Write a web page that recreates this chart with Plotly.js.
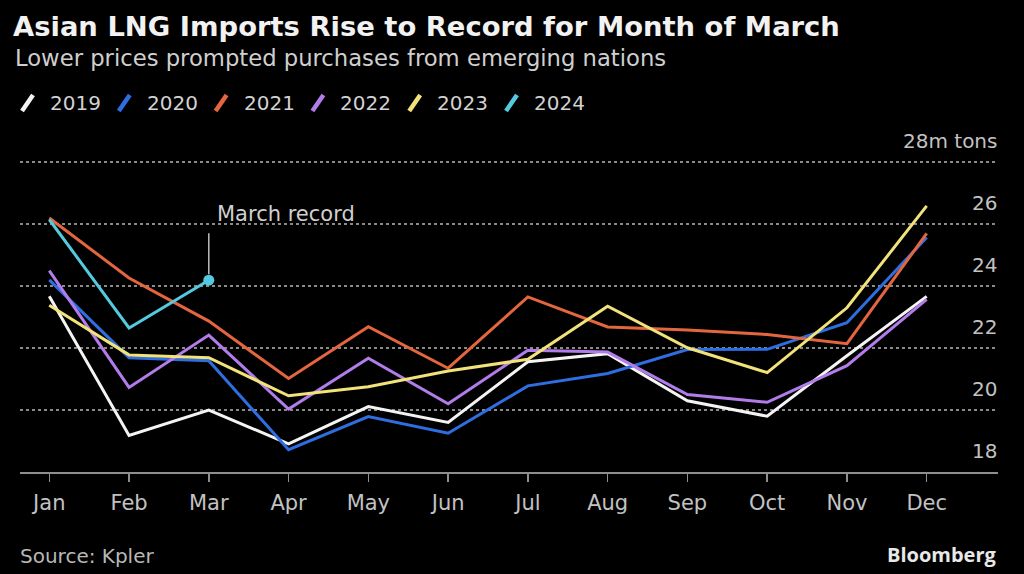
<!DOCTYPE html>
<html>
<head>
<meta charset="utf-8">
<script src="https://cdn.plot.ly/plotly-3.0.1.min.js"></script>
<style>
  html, body { margin: 0; padding: 0; background: #000; }
  #chart { width: 1024px; height: 574px; }
</style>
</head>
<body>
<div id="chart"></div>
<script>
// Monthly Asian LNG imports, million tons
const months = ['Jan', 'Feb', 'Mar', 'Apr', 'May', 'Jun', 'Jul', 'Aug', 'Sep', 'Oct', 'Nov', 'Dec'];
const years = ['2019', '2020', '2021', '2022', '2023', '2024'];

const imports2019 = [23.67, 19.18, 20.0, 18.91, 20.11, 19.6, 21.56, 21.82, 20.3, 19.8, 21.75, 23.67];
const imports2020 = [24.2, 21.69, 21.59, 18.72, 19.79, 19.25, 20.78, 21.18, 21.95, 21.96, 22.82, 25.57];
const imports2021 = [26.2, 24.26, 22.87, 21.02, 22.69, 21.35, 23.65, 22.68, 22.58, 22.44, 22.14, 25.7];
const imports2022 = [24.5, 20.73, 22.42, 20.03, 21.67, 20.2, 21.93, 21.87, 20.5, 20.25, 21.43, 23.57];
const imports2023 = [23.38, 21.78, 21.69, 20.46, 20.75, 21.26, 21.64, 23.35, 22.01, 21.21, 23.3, 26.59];
const imports2024 = [26.15, 22.65, 24.19];

const yTickVals = [18, 20, 22, 24, 26, 28];
const yTickText = ['18', '20', '22', '24', '26', '28m tons'];

const recordLabel = 'March record';
const recordMonth = 'Mar';

const series = [imports2019, imports2020, imports2021, imports2022, imports2023, imports2024];
const lineColors = ['#f4f4f4', '#2f6ee0', '#e4663f', '#b27ceb', '#f2e27a', '#55c9df'];

const W = 1024, H = 574;
const M = { l: 20, r: 26, t: 125, b: 102 };
const FONT = '"DejaVu Sans", sans-serif';

// pixel position on the page -> paper coordinates
const px2x = px => (px - M.l) / (W - M.l - M.r);
const py2y = py => (H - M.b - py) / (H - M.t - M.b);

const traces = series.map((vals, i) => ({
  type: 'scatter',
  mode: 'lines',
  name: years[i],
  x: months.slice(0, vals.length),
  y: vals,
  line: { color: lineColors[i], width: 3 },
  hoverinfo: 'x+y+name'
}));

const recordIdx = months.indexOf(recordMonth);
traces.push({
  type: 'scatter',
  mode: 'markers',
  x: [recordMonth],
  y: [imports2024[recordIdx]],
  marker: { color: lineColors[5], size: 11 },
  showlegend: false,
  hoverinfo: 'skip'
});

const shapes = [];
const annotations = [];

// legend row: slanted colour stroke followed by the year
years.forEach((yr, i) => {
  const x0 = 22 + i * 96.8;
  shapes.push({
    type: 'line', xref: 'paper', yref: 'paper',
    x0: px2x(x0), y0: py2y(111), x1: px2x(x0 + 11), y1: py2y(95),
    line: { color: lineColors[i], width: 4.5 }
  });
  annotations.push({
    xref: 'paper', yref: 'paper', x: px2x(x0 + 26), y: py2y(103),
    xanchor: 'left', yanchor: 'middle', showarrow: false,
    text: yr, font: { family: FONT, size: 20, color: '#d2d2d2' }
  });
});

// value labels sit just above their dotted gridlines, flush right
yTickVals.forEach((v, i) => {
  annotations.push({
    xref: 'paper', yref: 'y', x: 1, y: v,
    xanchor: 'right', yanchor: 'middle', yshift: 21, xshift: 1,
    showarrow: false, text: yTickText[i],
    font: { family: FONT, size: 20, color: '#c2c2c2' }
  });
});

// leader line from the record point up towards its label
shapes.push({
  type: 'line', xref: 'x', yref: 'y', ysizemode: 'pixel',
  x0: recordIdx, x1: recordIdx, yanchor: imports2024[recordIdx],
  y0: 6, y1: 47,
  line: { color: '#bdbdbd', width: 1.5 }
});
annotations.push({
  xref: 'x', yref: 'y', x: recordIdx, y: imports2024[recordIdx],
  xanchor: 'left', yanchor: 'middle', xshift: 6, yshift: 66,
  showarrow: false, text: recordLabel,
  font: { family: FONT, size: 21, color: '#d0d0d0' }
});

annotations.push({
  xref: 'paper', yref: 'paper', x: px2x(13), y: py2y(58),
  xanchor: 'left', yanchor: 'middle', showarrow: false,
  text: 'Lower prices prompted purchases from emerging nations',
  font: { family: FONT, size: 22.7, color: '#cfcfcf' }
});
annotations.push({
  xref: 'paper', yref: 'paper', x: px2x(18), y: py2y(556),
  xanchor: 'left', yanchor: 'middle', showarrow: false,
  text: 'Source: Kpler',
  font: { family: FONT, size: 20, color: '#b8b8b8' }
});
annotations.push({
  xref: 'paper', yref: 'paper', x: px2x(999), y: py2y(554),
  xanchor: 'right', yanchor: 'middle', showarrow: false,
  text: '<b>Bloomberg</b>',
  font: { family: '"Open Sans", "DejaVu Sans", sans-serif', size: 20, color: '#e8e8e8' }
});

const layout = {
  width: W, height: H,
  paper_bgcolor: '#000', plot_bgcolor: '#000',
  margin: M,
  showlegend: false,
  title: {
    text: '<b>Asian LNG Imports Rise to Record for Month of March</b>',
    xref: 'container', yref: 'container',
    x: 13 / W, xanchor: 'left', y: 1 - 26 / H, yanchor: 'middle',
    font: { family: FONT, size: 27.4, color: '#f2f2f2' }
  },
  xaxis: {
    type: 'category',
    categoryorder: 'array', categoryarray: months,
    range: [-0.367, 11.894],
    showgrid: false, zeroline: false,
    showline: true, linecolor: '#8e8e8e', linewidth: 2,
    ticks: 'outside', ticklen: 8, tickwidth: 1.5, tickcolor: '#8e8e8e',
    ticklabelstandoff: 3,
    tickfont: { family: FONT, size: 21, color: '#c2c2c2' },
    fixedrange: true
  },
  yaxis: {
    range: [18, 29.2],
    side: 'right',
    tickvals: yTickVals,
    showticklabels: false,
    ticks: '',
    showgrid: true, gridcolor: '#8a8a8a', gridwidth: 1.5, griddash: 'dot',
    zeroline: false, showline: false,
    fixedrange: true
  },
  shapes: shapes,
  annotations: annotations
};

Plotly.newPlot('chart', traces, layout, { displayModeBar: false, staticPlot: true });
</script>
</body>
</html>
